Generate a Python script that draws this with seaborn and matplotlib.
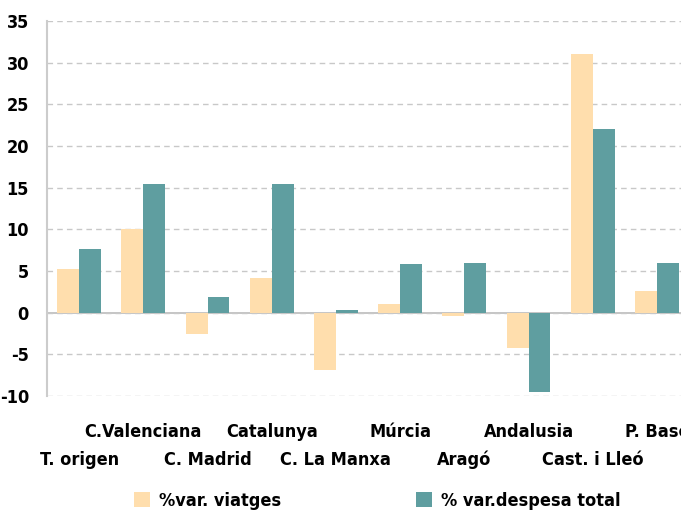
import matplotlib
matplotlib.use("Agg")
from matplotlib import pyplot as plt
from matplotlib import font_manager as fm
from matplotlib.ticker import FixedLocator
import seaborn as sns
import pandas as pd

# data
regions = ['T. origen', 'C.Valenciana', 'C. Madrid', 'Catalunya', 'C. La Manxa',
           'Múrcia', 'Aragó', 'Andalusia', 'Cast. i Lleó', 'P. Basc']
viatges = [5.2, 10.0, -2.5, 4.2, -6.9, 1.1, -0.4, -4.2, 31.0, 2.6]
despesa = [7.7, 15.5, 1.9, 15.4, 0.3, 5.9, 6.0, -9.5, 22.1, 6.0]
series = ['%var. viatges', '% var.despesa total']

df = pd.DataFrame({
    'region': regions * 2,
    'value': viatges + despesa,
    'serie': [series[0]] * len(regions) + [series[1]] * len(regions),
})


# look for a bold condensed face, the reference uses a narrow gothic font
def pick_font():
    order = {'ultra-condensed': 0, 'extra-condensed': 1, 'condensed': 2, 'semi-condensed': 3}
    best = None
    for f in fm.fontManager.ttflist:
        nm = f.name.lower()
        st = f.stretch if isinstance(f.stretch, str) else ''
        fn = f.fname.lower()
        if st in order:
            rank = order[st]
        elif 'extracondensed' in fn or 'extra condensed' in nm:
            rank = 1
        elif 'condensed' in nm or 'narrow' in nm or 'condensed' in fn:
            rank = 2
        else:
            continue
        if f.style != 'normal':
            continue
        w = f.weight
        if isinstance(w, str):
            w = fm.weight_dict.get(w, 400)
        if w < 600 or w > 800:
            continue
        key = (rank, abs(w - 700))
        if best is None or key < best[0]:
            best = (key, f.fname)
    return best[1] if best else None


sns.set_style('white')
plt.rcParams['axes.unicode_minus'] = False
plt.rcParams['text.color'] = 'black'
plt.rcParams['ytick.labelcolor'] = 'black'
font_path = pick_font()
if font_path:
    fp = fm.FontProperties(fname=font_path, size=13)
else:
    fp = fm.FontProperties(family='DejaVu Sans', weight='bold', size=11)

fig = plt.figure(figsize=(6.81, 5.16), dpi=100)
ax = fig.add_axes([47 / 681, 1 - 396 / 516, 642 / 681, 375 / 516])

sns.barplot(data=df, x='region', y='value', hue='serie', ax=ax,
            palette=['navajowhite', 'cadetblue'], width=0.68, saturation=1,
            linewidth=0)
handles, leg_labels = ax.get_legend_handles_labels()
ax.get_legend().remove()

ax.set_ylim(-10, 35)
ax.set_xlim(-0.5, len(regions) - 0.5)
ax.set_yticks(range(-10, 36, 5))
ax.yaxis.grid(True, linestyle=(0, (4, 3)), color='#c8c8c8', linewidth=1)
ax.set_axisbelow(True)
ax.axhline(0, color='#bbbbbb', linewidth=1.2, zorder=0.5)

for s in ['top', 'right', 'bottom']:
    ax.spines[s].set_visible(False)
ax.spines['left'].set_color('#cccccc')
ax.spines['left'].set_linewidth(1.5)

ax.tick_params(axis='y', length=7, color='#bbbbbb', width=1.5, pad=6, labelcolor='black')
for lbl in ax.get_yticklabels():
    lbl.set_fontproperties(fp)

# category labels in two staggered rows
ax.set_xticks(range(len(regions)))
ax.set_xticklabels([''] * len(regions))
ax.tick_params(axis='x', which='major', length=0)
ax.xaxis.set_minor_locator(FixedLocator([i - 0.5 for i in range(len(regions) + 1)]))
ax.tick_params(axis='x', which='minor', length=8, color='#bbbbbb', width=1.5)
for i, name in enumerate(regions):
    drop = 29.5 if i % 2 == 1 else 49.7
    ax.annotate(name, xy=(i, 0), xycoords=('data', 'axes fraction'),
                xytext=(0, -drop), textcoords='offset points',
                ha='center', va='baseline', fontproperties=fp,
                color='black', annotation_clip=False)

ax.set_xlabel('')
ax.set_ylabel('')

# legend entries sit at fixed spots along the bottom
for h, lab, x0 in zip(handles, leg_labels, [134, 416]):
    fig.legend([h], [lab], loc='center left', bbox_to_anchor=(x0 / 681, 1 - 501 / 516),
               frameon=False, prop=fp, handlelength=0.9, handleheight=0.9,
               handletextpad=0.5, borderpad=0, borderaxespad=0, labelcolor='black')

fig.savefig('out.png', dpi=100)
